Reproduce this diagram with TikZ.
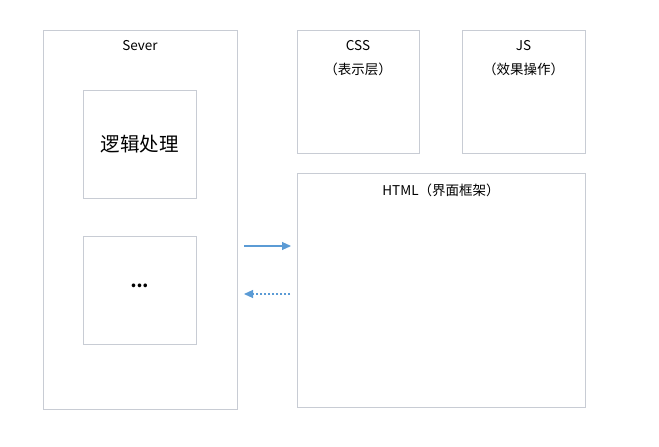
\documentclass[tikz,border=0pt]{standalone}
\usepackage{fontspec}
\setmainfont{Noto Sans CJK SC}
\usetikzlibrary{arrows.meta}
\definecolor{boxline}{HTML}{C8CCD4}
\definecolor{arrowblue}{HTML}{5B9BD5}
\tikzset{
  box/.style={draw=boxline, line width=0.9pt, fill=white, inner sep=0pt},
  lbl/.style={font=\fontsize{13.5}{16}\selectfont, inner sep=0pt, text=black},
  flow/.style={draw=arrowblue, line width=1.1pt, -{Triangle[length=9pt,width=8pt]}},
  back/.style={flow, dash pattern=on 2.5pt off 1.5pt}
}
\begin{document}
\begin{tikzpicture}[x=1pt,y=-1pt]
\useasboundingbox (0,0) rectangle (659,447);
% boxes
\node[box, minimum width=194pt, minimum height=379pt] (sever) at (140,219.5) {};
\node[box, minimum width=113pt, minimum height=108pt] (logic) at (139.5,144) {};
\node[box, minimum width=113pt, minimum height=108pt] (etc) at (139.5,290) {};
\node[box, minimum width=122pt, minimum height=123pt] (css) at (358,91.5) {};
\node[box, minimum width=123pt, minimum height=123pt] (js) at (523.5,91.5) {};
\node[box, minimum width=288pt, minimum height=234pt] (html) at (441,290) {};
% labels
\node[lbl] (severt) at (140,46) {Sever};
\node[font=\fontsize{19.5}{22}\selectfont, inner sep=0pt] (logict) at (139.5,144) {逻辑处理};
\node[font=\fontsize{17}{18}\selectfont\bfseries, inner sep=0pt] (etct) at (139.5,286) {...};
\node[lbl] (csst) at (358,46) {CSS};
\node[lbl] (csss) at (358,69) {（表示层）};
\node[lbl] (jst) at (523.5,46) {JS};
\node[lbl] (jss) at (523.5,69) {（效果操作）};
\node[lbl] (htmlt) at (441,190) {HTML（界面框架）};
% arrows
\coordinate (a1s) at (244,246);
\coordinate (a1e) at (291,246);
\coordinate (a2s) at (290,294);
\coordinate (a2e) at (244,294);
\draw[flow] (a1s) -- (a1e);
\draw[back] (a2s) -- (a2e);
\end{tikzpicture}
\end{document}
